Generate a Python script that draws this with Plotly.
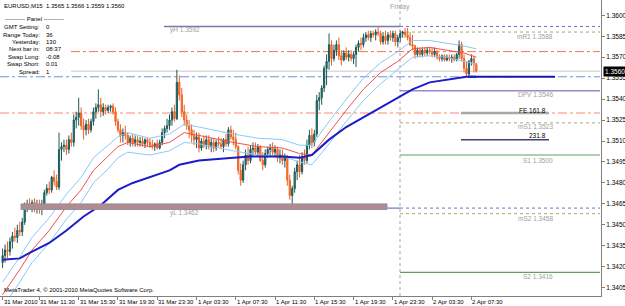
import plotly.graph_objects as go

# ---------------- data (EURUSD M15) ----------------
open_ = [1.3423,1.3428,1.3432,1.3431,1.3438,1.3442,1.3441,1.3446,1.3445,1.3452,
 1.3463,1.3465,1.3463,1.3466,1.3461,1.3464,1.3461,1.3465,1.3473,1.3476,
 1.3475,1.3484,1.3481,1.3477,1.3504,1.3506,1.3507,1.3504,1.3511,1.3509,
 1.3525,1.3527,1.3530,1.3521,1.3518,1.3522,1.3518,1.3524,1.3531,1.3534,
 1.3536,1.3531,1.3534,1.3532,1.3534,1.3535,1.3531,1.3524,1.3518,1.3514,
 1.3516,1.3514,1.3509,1.3512,1.3509,1.3511,1.3509,1.3510,1.3508,1.3511,
 1.3509,1.3507,1.3506,1.3508,1.3505,1.3509,1.3516,1.3519,1.3521,1.3525,
 1.3531,1.3526,1.3552,1.3543,1.3531,1.3525,1.3521,1.3518,1.3514,1.3511,
 1.3513,1.3505,1.3510,1.3507,1.3511,1.3506,1.3509,1.3505,1.3509,1.3508,
 1.3506,1.3511,1.3508,1.3518,1.3513,1.3511,1.3506,1.3489,1.3482,1.3493,
 1.3500,1.3496,1.3504,1.3505,1.3502,1.3506,1.3496,1.3493,1.3501,1.3504,
 1.3505,1.3502,1.3504,1.3498,1.3500,1.3496,1.3499,1.3482,1.3471,1.3476,
 1.3488,1.3493,1.3488,1.3498,1.3496,1.3507,1.3514,1.3509,1.3515,1.3539,
 1.3541,1.3548,1.3562,1.3567,1.3579,1.3569,1.3575,1.3579,1.3571,1.3568,
 1.3573,1.3570,1.3572,1.3569,1.3572,1.3577,1.3580,1.3579,1.3584,1.3586,
 1.3584,1.3587,1.3586,1.3588,1.3587,1.3581,1.3585,1.3582,1.3586,1.3584,
 1.3587,1.3581,1.3584,1.3587,1.3588,1.3586,1.3584,1.3579,1.3578,1.3572,
 1.3575,1.3572,1.3575,1.3573,1.3575,1.3574,1.3572,1.3574,1.3570,1.3569,
 1.3571,1.3568,1.3570,1.3569,1.3570,1.3568,1.3572,1.3579,1.3569,1.3562,
 1.3558,1.3567,1.3569,1.3565]
high = [1.3433,1.3436,1.3438,1.3441,1.3445,1.3448,1.3450,1.3452,1.3455,1.3466,
 1.3468,1.3469,1.3468,1.3469,1.3468,1.3468,1.3468,1.3475,1.3479,1.3481,
 1.3485,1.3489,1.3486,1.3516,1.3509,1.3511,1.3511,1.3514,1.3516,1.3529,
 1.3531,1.3541,1.3534,1.3526,1.3525,1.3526,1.3526,1.3534,1.3537,1.3547,
 1.3541,1.3537,1.3536,1.3536,1.3536,1.3537,1.3534,1.3526,1.3522,1.3519,
 1.3521,1.3516,1.3514,1.3515,1.3514,1.3514,1.3513,1.3513,1.3512,1.3512,
 1.3512,1.3511,1.3509,1.3511,1.3511,1.3519,1.3521,1.3526,1.3529,1.3534,
 1.3536,1.3561,1.3557,1.3548,1.3536,1.3529,1.3525,1.3522,1.3518,1.3516,
 1.3516,1.3512,1.3514,1.3514,1.3514,1.3512,1.3512,1.3511,1.3513,1.3512,
 1.3512,1.3515,1.3520,1.3521,1.3518,1.3516,1.3507,1.3494,1.3496,1.3504,
 1.3506,1.3507,1.3509,1.3509,1.3508,1.3507,1.3502,1.3504,1.3506,1.3508,
 1.3509,1.3507,1.3506,1.3504,1.3504,1.3501,1.3500,1.3486,1.3478,1.3491,
 1.3496,1.3500,1.3502,1.3504,1.3511,1.3518,1.3519,1.3518,1.3543,1.3545,
 1.3550,1.3564,1.3572,1.3587,1.3582,1.3579,1.3582,1.3584,1.3575,1.3575,
 1.3577,1.3575,1.3575,1.3574,1.3579,1.3582,1.3584,1.3587,1.3588,1.3589,
 1.3589,1.3589,1.3590,1.3592,1.3589,1.3588,1.3589,1.3588,1.3589,1.3589,
 1.3589,1.3586,1.3589,1.3589,1.3591,1.3591,1.3588,1.3586,1.3579,1.3577,
 1.3577,1.3577,1.3577,1.3577,1.3577,1.3577,1.3577,1.3575,1.3572,1.3572,
 1.3572,1.3572,1.3572,1.3572,1.3572,1.3573,1.3582,1.3581,1.3572,1.3567,
 1.3568,1.3572,1.3571,1.3566]
low = [1.3419,1.3423,1.3426,1.3428,1.3433,1.3438,1.3437,1.3442,1.3442,1.3450,
 1.3459,1.3461,1.3459,1.3459,1.3458,1.3458,1.3457,1.3463,1.3471,1.3472,
 1.3473,1.3478,1.3475,1.3475,1.3496,1.3502,1.3500,1.3501,1.3506,1.3506,
 1.3519,1.3521,1.3518,1.3511,1.3514,1.3515,1.3516,1.3521,1.3526,1.3531,
 1.3527,1.3528,1.3529,1.3530,1.3531,1.3529,1.3521,1.3516,1.3509,1.3509,
 1.3511,1.3507,1.3506,1.3506,1.3506,1.3506,1.3506,1.3506,1.3505,1.3506,
 1.3505,1.3504,1.3503,1.3504,1.3504,1.3507,1.3512,1.3516,1.3518,1.3521,
 1.3524,1.3525,1.3539,1.3527,1.3521,1.3518,1.3512,1.3509,1.3507,1.3505,
 1.3502,1.3503,1.3505,1.3504,1.3504,1.3502,1.3502,1.3503,1.3506,1.3504,
 1.3502,1.3506,1.3506,1.3511,1.3507,1.3504,1.3486,1.3478,1.3480,1.3489,
 1.3493,1.3494,1.3499,1.3500,1.3499,1.3495,1.3489,1.3491,1.3498,1.3499,
 1.3500,1.3499,1.3495,1.3494,1.3493,1.3491,1.3478,1.3468,1.3462,1.3473,
 1.3482,1.3484,1.3486,1.3493,1.3494,1.3504,1.3505,1.3506,1.3513,1.3532,
 1.3536,1.3545,1.3550,1.3561,1.3564,1.3567,1.3571,1.3568,1.3564,1.3567,
 1.3568,1.3567,1.3567,1.3565,1.3563,1.3574,1.3575,1.3577,1.3581,1.3582,
 1.3581,1.3584,1.3582,1.3585,1.3579,1.3579,1.3579,1.3579,1.3582,1.3581,
 1.3578,1.3577,1.3581,1.3584,1.3584,1.3582,1.3578,1.3575,1.3569,1.3570,
 1.3570,1.3570,1.3571,1.3571,1.3572,1.3570,1.3570,1.3568,1.3567,1.3567,
 1.3567,1.3567,1.3567,1.3566,1.3567,1.3567,1.3569,1.3567,1.3559,1.3556,
 1.3556,1.3564,1.3559,1.3559]
close = [1.3428,1.3432,1.3431,1.3438,1.3442,1.3441,1.3446,1.3445,1.3452,1.3463,
 1.3465,1.3463,1.3466,1.3461,1.3464,1.3461,1.3465,1.3473,1.3476,1.3475,
 1.3484,1.3481,1.3477,1.3504,1.3506,1.3507,1.3504,1.3511,1.3509,1.3525,
 1.3527,1.3530,1.3521,1.3518,1.3522,1.3518,1.3524,1.3531,1.3534,1.3536,
 1.3531,1.3534,1.3532,1.3534,1.3535,1.3531,1.3524,1.3518,1.3514,1.3516,
 1.3514,1.3509,1.3512,1.3509,1.3511,1.3509,1.3510,1.3508,1.3511,1.3509,
 1.3507,1.3506,1.3508,1.3505,1.3509,1.3516,1.3519,1.3521,1.3525,1.3531,
 1.3526,1.3552,1.3543,1.3531,1.3525,1.3521,1.3518,1.3514,1.3511,1.3513,
 1.3505,1.3510,1.3507,1.3511,1.3506,1.3509,1.3505,1.3509,1.3508,1.3506,
 1.3511,1.3508,1.3518,1.3513,1.3511,1.3506,1.3489,1.3482,1.3493,1.3500,
 1.3496,1.3504,1.3505,1.3502,1.3506,1.3496,1.3493,1.3501,1.3504,1.3505,
 1.3502,1.3504,1.3498,1.3500,1.3496,1.3499,1.3482,1.3471,1.3476,1.3488,
 1.3493,1.3488,1.3498,1.3496,1.3507,1.3514,1.3509,1.3515,1.3539,1.3541,
 1.3548,1.3562,1.3567,1.3579,1.3569,1.3575,1.3579,1.3571,1.3568,1.3573,
 1.3570,1.3572,1.3569,1.3572,1.3577,1.3580,1.3579,1.3584,1.3586,1.3584,
 1.3587,1.3586,1.3588,1.3587,1.3581,1.3585,1.3582,1.3586,1.3584,1.3587,
 1.3581,1.3584,1.3587,1.3588,1.3586,1.3584,1.3579,1.3578,1.3572,1.3575,
 1.3572,1.3575,1.3573,1.3575,1.3574,1.3572,1.3574,1.3570,1.3569,1.3571,
 1.3568,1.3570,1.3569,1.3570,1.3568,1.3572,1.3579,1.3569,1.3562,1.3558,
 1.3567,1.3569,1.3565,1.3560]
bars = list(range(len(close)))

# moving averages / envelope
ma_fast_x = [0,7,12,19,26,32,37,43,47,51,60,68,74,80,94,104,114,121,126,133,140,147,154,161,167,174,181,188,193]
ma_fast = [1.3400,1.3418,1.3432,1.3446,1.3463,1.3475,1.3489,1.3499,1.3506,1.3509,1.3506,1.3509,1.3516,1.3514,1.3509,
           1.3506,1.3505,1.3501,1.3500,1.3516,1.3532,1.3547,1.3559,1.3567,1.3576,1.3577,1.3575,1.3573,1.3570]
band_up = [1.3409,1.3427,1.3441,1.3455,1.3472,1.3484,1.3498,1.3507,1.3513,1.3516,1.3512,1.3515,1.3522,1.3520,1.3515,
           1.3512,1.3511,1.3507,1.3507,1.3524,1.3540,1.3555,1.3566,1.3574,1.3582,1.3582,1.3580,1.3578,1.3576]
band_dn = [1.3391,1.3409,1.3423,1.3437,1.3454,1.3466,1.3480,1.3490,1.3498,1.3502,1.3500,1.3503,1.3509,1.3508,1.3503,
           1.3500,1.3499,1.3495,1.3493,1.3508,1.3524,1.3539,1.3551,1.3561,1.3570,1.3571,1.3570,1.3567,1.3565]
ma_slow_x = [0,7,11,19,26,33,40,47,53,60,68,72,80,94,101,114,121,126,133,140,147,154,161,167,174,181,189,193]
ma_slow = [1.3425,1.3426,1.3430,1.3437,1.3446,1.3456,1.3464,1.3475,1.3480,1.3484,1.3489,1.3493,1.3496,1.3498,
           1.3499,1.3499,1.3498,1.3500,1.3511,1.3520,1.3527,1.3534,1.3541,1.3547,1.3552,1.3554,1.3556,1.3556]

# pivot levels
yH, yL = 1.3592, 1.3462
pivot_names = ["mR1", "DPV", "mS1", "S1", "mS2", "S2"]
pivot_values = [1.3588, 1.3546, 1.3523, 1.3500, 1.3458, 1.3416]
other_levels = [1.3574, 1.3560, 1.3556, 1.3530]   # orange, bid, blue, salmon
fe_levels = [1.3530, 1.3511]
fe_labels = ["FE 161.8", "231.8"]
zone = [1.3461, 1.3465]

time_idx = [0, 15, 31, 47, 63, 79, 95, 111, 127, 143, 159, 175, 191]
time_labels = ["31 Mar 2010", "31 Mar 11:30", "31 Mar 15:30", "31 Mar 19:30", "31 Mar 23:30",
               "1 Apr 03:30", "1 Apr 07:30", "1 Apr 11:30", "1 Apr 15:30", "1 Apr 19:30",
               "1 Apr 23:30", "2 Apr 03:30", "2 Apr 07:30"]
price_ticks = [1.3600 - 0.0015 * k for k in range(14)]

panel_labels = ["GMT Setting:", "Range Today:", "Yesterday:", "Next bar in:", "Swap Long:", "Swap Short:", "Spread:"]
panel_values = ["0", "36", "130", "08:37", "-0.08", "0.01", "1"]

# ---------------- layout helpers ----------------
W, H = 625, 306
PL, PR, PT, PB = 0, 24, 0, 10
PW, PH = W - PL - PR, H - PT - PB
X0, DX = 2.6, 2.4545          # pixel of bar 0, pixels per bar
def bx(px):
    return (px - X0) / DX
XR = [bx(0), bx(PW)]
YR = [1.339907, 1.361095]
FONT = "Liberation Sans"

fig = go.Figure()
fig.add_trace(go.Scatter(x=ma_fast_x, y=band_up, mode="lines", line=dict(color="#8cc8f8", width=1), hoverinfo="skip"))
fig.add_trace(go.Scatter(x=ma_fast_x, y=band_dn, mode="lines", line=dict(color="#8cc8f8", width=1), hoverinfo="skip"))
fig.add_trace(go.Scatter(x=ma_fast_x, y=ma_fast, mode="lines", line=dict(color="#f05050", width=1), hoverinfo="skip"))
fig.add_trace(go.Scatter(x=ma_slow_x, y=ma_slow, mode="lines", line=dict(color="#1c1cc8", width=2), hoverinfo="skip"))
fig.add_trace(go.Candlestick(
    x=bars, open=open_, high=high, low=low, close=close,
    increasing=dict(line=dict(color="#205858", width=1), fillcolor="#0a8a8a"),
    decreasing=dict(line=dict(color="#f06020", width=1), fillcolor="#ff7a30"),
    whiskerwidth=0, hoverinfo="skip"))

shapes = []
def hline(px0, px1, y, color, width=1, dash="solid"):
    shapes.append(dict(type="line", xref="x", yref="y", x0=bx(px0), x1=bx(px1), y0=y, y1=y,
                       line=dict(color=color, width=width, dash=dash), layer="below"))

# zone
shapes.append(dict(type="rect", xref="x", yref="y", x0=bx(21), x1=bx(387), y0=zone[0], y1=zone[1],
                   fillcolor="#b08c90", line=dict(color="#9090a0", width=1), layer="above"))
hline(164, 400, yH, "#7a7aa8", 1.5)
hline(400, 600, yH, "#7070c8", 1, "dot")
hline(21, 400, yL, "#7878c0", 1.2)
hline(400, 600, yL, "#7070c8", 1, "dot")
hline(71, 600, other_levels[0], "#ff7040", 1, "dashdot")
hline(71, 600, other_levels[1], "#c8c8c8", 1)
hline(0, 600, other_levels[2], "#7090e0", 1, "dashdot")
hline(0, 600, other_levels[3], "#ffb0a0", 1.5, "dashdot")
pv_style = {"mR1": ("#a8a870", 1, "dot"), "DPV": ("#a088c8", 1.5, "solid"), "mS1": ("#a8a870", 1, "dot"),
            "S1": ("#60a060", 1.2, "solid"), "mS2": ("#a8a870", 1, "dot"), "S2": ("#60a060", 1.2, "solid")}
for n, v in zip(pivot_names, pivot_values):
    c, w, d = pv_style[n]
    hline(400, 600, v, c, w, d)
hline(461, 549, fe_levels[0], "#a8a8a8", 2.5)
hline(461, 549, fe_levels[1], "#404070", 1.5)
hline(468, 555, ma_slow[-1], "#1818b0", 2)
shapes.append(dict(type="line", xref="x", yref="paper", x0=bx(400), x1=bx(400), y0=0, y1=1,
                   line=dict(color="#a8a8a8", width=1, dash="dot"), layer="below"))

ann = []
def txt(x, y, s, xref="x", yref="y", xanchor="left", color="#a0a0a0", size=6.5, yshift=0, **kw):
    ann.append(dict(x=x, y=y, xref=xref, yref=yref, text=s, showarrow=False, xanchor=xanchor,
                    yanchor="middle", yshift=yshift, font=dict(family=FONT, size=size, color=color), **kw))

txt(bx(168), yH, "yH " + f"{yH:.4f}", yshift=-4)
txt(bx(168), yL, "yL " + f"{yL:.4f}", yshift=-5)
shift = {"mR1": -4, "DPV": -4, "mS1": -4, "S1": -5, "mS2": -5, "S2": -4}
for n, v in zip(pivot_names, pivot_values):
    txt(bx(555), v, f"{n} {v:.4f}", xanchor="right", yshift=shift[n])
txt(bx(548), fe_levels[0], fe_labels[0], xanchor="right", color="#000000", yshift=3)
txt(bx(548), fe_levels[1], fe_labels[1], xanchor="right", color="#000000", yshift=4)
txt(bx(400), 1 - 7 / PH, "Friday", yref="paper", xanchor="center", size=7)

for i, s in zip(time_idx, time_labels):
    ann.append(dict(x=i, y=0, xref="x", yref="paper", text=s, showarrow=False, xanchor="left",
                    yanchor="top", yshift=-1, xshift=-1, font=dict(family=FONT, size=6, color="#000000")))

def ptxt(px, py, s, xanchor="left", size=6):
    ann.append(dict(x=px / PW, y=1 - py / PH, xref="paper", yref="paper", text=s, showarrow=False,
                    xanchor=xanchor, yanchor="middle", font=dict(family=FONT, size=size, color="#000000")))

ptxt(2, 6.5, f"EURUSD,M15  {open_[-1]:.4f} {high[-1]:.4f} {low[-1]:.4f} {close[-1]:.4f}")
ptxt(34, 19, "---------- Panel ----------", xanchor="center")
for k, (l, v) in enumerate(zip(panel_labels, panel_values)):
    ptxt(41.5, 27 + 7.5 * k, l, xanchor="right")
    ptxt(44, 27 + 7.5 * k, v)
ptxt(2, 290, "MetaTrader 4, © 2001-2010 MetaQuotes Software Corp.")

ann.append(dict(x=1, y=close[-1], xref="paper", yref="y", text=f"{close[-1]:.4f}", showarrow=False,
                xanchor="left", yanchor="middle", xshift=2, bgcolor="#000000", borderpad=1,
                font=dict(family=FONT, size=6.5, color="#ffffff")))

fig.update_layout(
    width=W, height=H, margin=dict(l=PL, r=PR, t=PT, b=PB, autoexpand=False),
    paper_bgcolor="#ffffff", plot_bgcolor="#ffffff", showlegend=False,
    shapes=shapes, annotations=ann,
    xaxis=dict(range=XR, showgrid=False, zeroline=False, showline=True, linecolor="#808080",
               tickvals=time_idx, ticks="outside", ticklen=3, tickcolor="#808080",
               showticklabels=False, rangeslider=dict(visible=False), fixedrange=True),
    yaxis=dict(range=YR, side="right", showgrid=False, zeroline=False, showline=True, mirror=True,
               linecolor="#808080", tickvals=price_ticks, ticktext=[f"{v:.4f}" for v in price_ticks],
               ticks="outside", ticklen=3, tickcolor="#808080",
               tickfont=dict(family=FONT, size=6.5, color="#000000"), fixedrange=True),
)
fig.write_html("out.html")
